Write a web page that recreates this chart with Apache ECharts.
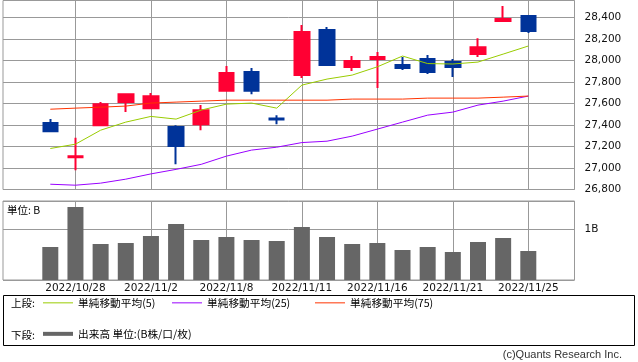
<!DOCTYPE html>
<html><head><meta charset="utf-8">
<script src="https://cdn.jsdelivr.net/npm/echarts@6/dist/echarts.min.js"></script>
<style>html,body{margin:0;padding:0;background:#fff}#c{width:638px;height:362px}</style>
</head><body><div id="c"></div>
<script>
// ---- data ----
const dates = ['2022/10/27','2022/10/28','2022/10/31','2022/11/1','2022/11/2','2022/11/4','2022/11/7','2022/11/8','2022/11/9','2022/11/10','2022/11/11','2022/11/14','2022/11/15','2022/11/16','2022/11/17','2022/11/18','2022/11/21','2022/11/22','2022/11/24','2022/11/25'];
// [open, close, low, high]
const ohlc = [
  [27417, 27342, 27333, 27454],
  [27100, 27110, 26980, 27280],
  [27397, 27593, 27388, 27612],
  [27612, 27686, 27519, 27690],
  [27556, 27667, 27546, 27696],
  [27380, 27203, 27035, 27397],
  [27407, 27537, 27351, 27584],
  [27717, 27882, 27708, 27947],
  [27891, 27717, 27686, 27928],
  [27460, 27450, 27407, 27491],
  [27863, 28263, 27835, 28328],
  [28282, 27956, 27950, 28310],
  [27937, 27993, 27900, 28040],
  [28012, 28030, 27742, 28077],
  [27956, 27928, 27910, 28030],
  [28012, 27891, 27872, 28049],
  [27984, 27937, 27845, 28012],
  [28058, 28121, 28030, 28205],
  [28365, 28384, 28356, 28505],
  [28412, 28272, 28254, 28412]
];
const ma5  = [27181, 27221, 27351, 27426, 27479, 27454, 27538, 27593, 27603, 27556, 27770, 27826, 27863, 27940, 28040, 27970, 27966, 27984, 28058, 28133];
const ma25 = [26849, 26840, 26859, 26896, 26945, 26987, 27034, 27110, 27166, 27193, 27236, 27249, 27296, 27361, 27426, 27491, 27519, 27584, 27621, 27668];
const ma75 = [27546, 27556, 27565, 27575, 27603, 27612, 27621, 27630, 27630, 27630, 27630, 27630, 27640, 27640, 27640, 27649, 27649, 27649, 27658, 27668];
const volume = [0.647, 1.43, 0.706, 0.725, 0.863, 1.098, 0.784, 0.843, 0.784, 0.765, 1.039, 0.843, 0.706, 0.725, 0.588, 0.647, 0.549, 0.745, 0.824, 0.569]; // B
const xTickLabels = ['2022/10/28','2022/11/2','2022/11/8','2022/11/11','2022/11/16','2022/11/21','2022/11/25'];
const volTickLabels = {1: '1B'};
const seriesNames = ['単純移動平均(5)','単純移動平均(25)','単純移動平均(75)','出来高 単位:(B株/口/枚)'];

// ---- chart ----
const chart = echarts.init(document.getElementById('c'), null, {renderer:'canvas'});
const GRID = '#999999';
const tickFn = (i, v) => xTickLabels.indexOf(v) >= 0;
const axFont = {fontFamily:'DejaVu Sans', fontSize:10.5, color:'#111'};
const lgFont = {fontFamily:'Noto Sans CJK JP', fontSize:10.7, color:'#000'};
const pMin = 26800, pMax = 28556;
const vMax = 1.549;

chart.setOption({
  animation:false,
  grid:[
    {left:3, right:63.5, top:0.5, height:189, show:true, borderColor:GRID, borderWidth:1, backgroundColor:'transparent'},
    {left:50.3, width:478, top:0.5, height:189},
    {left:3, right:63.5, top:201, height:79, show:true, borderColor:GRID, borderWidth:1, backgroundColor:'transparent'},
    {left:50.3, width:478, top:201, height:79}
  ],
  xAxis:[
    {type:'value', gridIndex:0, show:false, min:0, max:1},
    {type:'category', gridIndex:1, data:dates, boundaryGap:false,
      axisLine:{show:false}, axisTick:{show:false}, axisLabel:{show:false},
      splitLine:{show:true, interval:tickFn, lineStyle:{color:GRID, width:1}}},
    {type:'value', gridIndex:2, show:false, min:0, max:1},
    {type:'category', gridIndex:3, data:dates, boundaryGap:false,
      axisLine:{show:false}, axisTick:{show:false},
      axisLabel:Object.assign({interval:tickFn, margin:3}, axFont),
      splitLine:{show:true, interval:tickFn, lineStyle:{color:GRID, width:1}}}
  ],
  yAxis:[
    {type:'value', gridIndex:0, position:'right', min:pMin, max:pMax, interval:200,
      axisLine:{show:false}, axisTick:{show:false},
      axisLabel:Object.assign({margin:10, showMaxLabel:false, formatter:v=>v.toLocaleString('en-US')}, axFont),
      splitLine:{show:true, lineStyle:{color:GRID, width:1}}},
    {type:'value', gridIndex:1, min:pMin, max:pMax, show:false},
    {type:'value', gridIndex:2, position:'right', min:0, max:vMax, interval:1,
      axisLine:{show:false}, axisTick:{show:false},
      axisLabel:Object.assign({margin:10, showMinLabel:false, showMaxLabel:false, formatter:v=>volTickLabels[v]||''}, axFont),
      splitLine:{show:true, lineStyle:{color:GRID, width:1}}},
    {type:'value', gridIndex:3, min:0, max:vMax, show:false}
  ],
  legend:[
    {data:[{name:seriesNames[0], icon:'rect'}], left:43, top:297.5, padding:0, itemWidth:30, itemHeight:1, textStyle:lgFont},
    {data:[{name:seriesNames[1], icon:'rect'}], left:172, top:297.5, padding:0, itemWidth:30, itemHeight:1, textStyle:lgFont},
    {data:[{name:seriesNames[2], icon:'rect'}], left:315, top:297.5, padding:0, itemWidth:30, itemHeight:1, textStyle:lgFont},
    {data:[{name:seriesNames[3], icon:'rect'}], left:43, top:328.5, padding:0, itemWidth:30, itemHeight:4, textStyle:lgFont}
  ],
  series:[
    {type:'candlestick', name:'日足', xAxisIndex:1, yAxisIndex:1, data:ohlc, barWidth:15, clip:false,
      itemStyle:{color:'#ff0033', color0:'#003399', borderColor:'#ff0033', borderColor0:'#003399', borderWidth:2}},
    {type:'line', name:seriesNames[0], xAxisIndex:1, yAxisIndex:1, data:ma5, symbol:'none', lineStyle:{color:'#99cc00', width:1}, itemStyle:{color:'#99cc00'}},
    {type:'line', name:seriesNames[1], xAxisIndex:1, yAxisIndex:1, data:ma25, symbol:'none', lineStyle:{color:'#9900ff', width:1}, itemStyle:{color:'#9900ff'}},
    {type:'line', name:seriesNames[2], xAxisIndex:1, yAxisIndex:1, data:ma75, symbol:'none', lineStyle:{color:'#ff3300', width:1}, itemStyle:{color:'#ff3300'}},
    {type:'bar', name:seriesNames[3], xAxisIndex:3, yAxisIndex:3, data:volume, barWidth:16, clip:false, itemStyle:{color:'#666666'}}
  ],
  graphic:[
    {type:'rect', shape:{x:3.5, y:295.5, width:631, height:50}, style:{fill:'none', stroke:'#000', lineWidth:1}, silent:true},
    {type:'text', x:11, y:303.5, style:{text:'上段:', font:'10.5px "Noto Sans CJK JP"', fill:'#000', verticalAlign:'middle'}},
    {type:'text', x:11, y:335, style:{text:'下段:', font:'10.5px "Noto Sans CJK JP"', fill:'#000', verticalAlign:'middle'}},
    {type:'text', x:7, y:210, style:{text:'単位: B', font:'10.5px "Noto Sans CJK JP"', fill:'#000', verticalAlign:'middle'}},
    {type:'text', x:622, y:355, style:{text:'(c)Quants Research Inc.', font:'11px "Liberation Sans"', fill:'#333', align:'right', verticalAlign:'middle'}}
  ]
});
</script>
</body></html>
